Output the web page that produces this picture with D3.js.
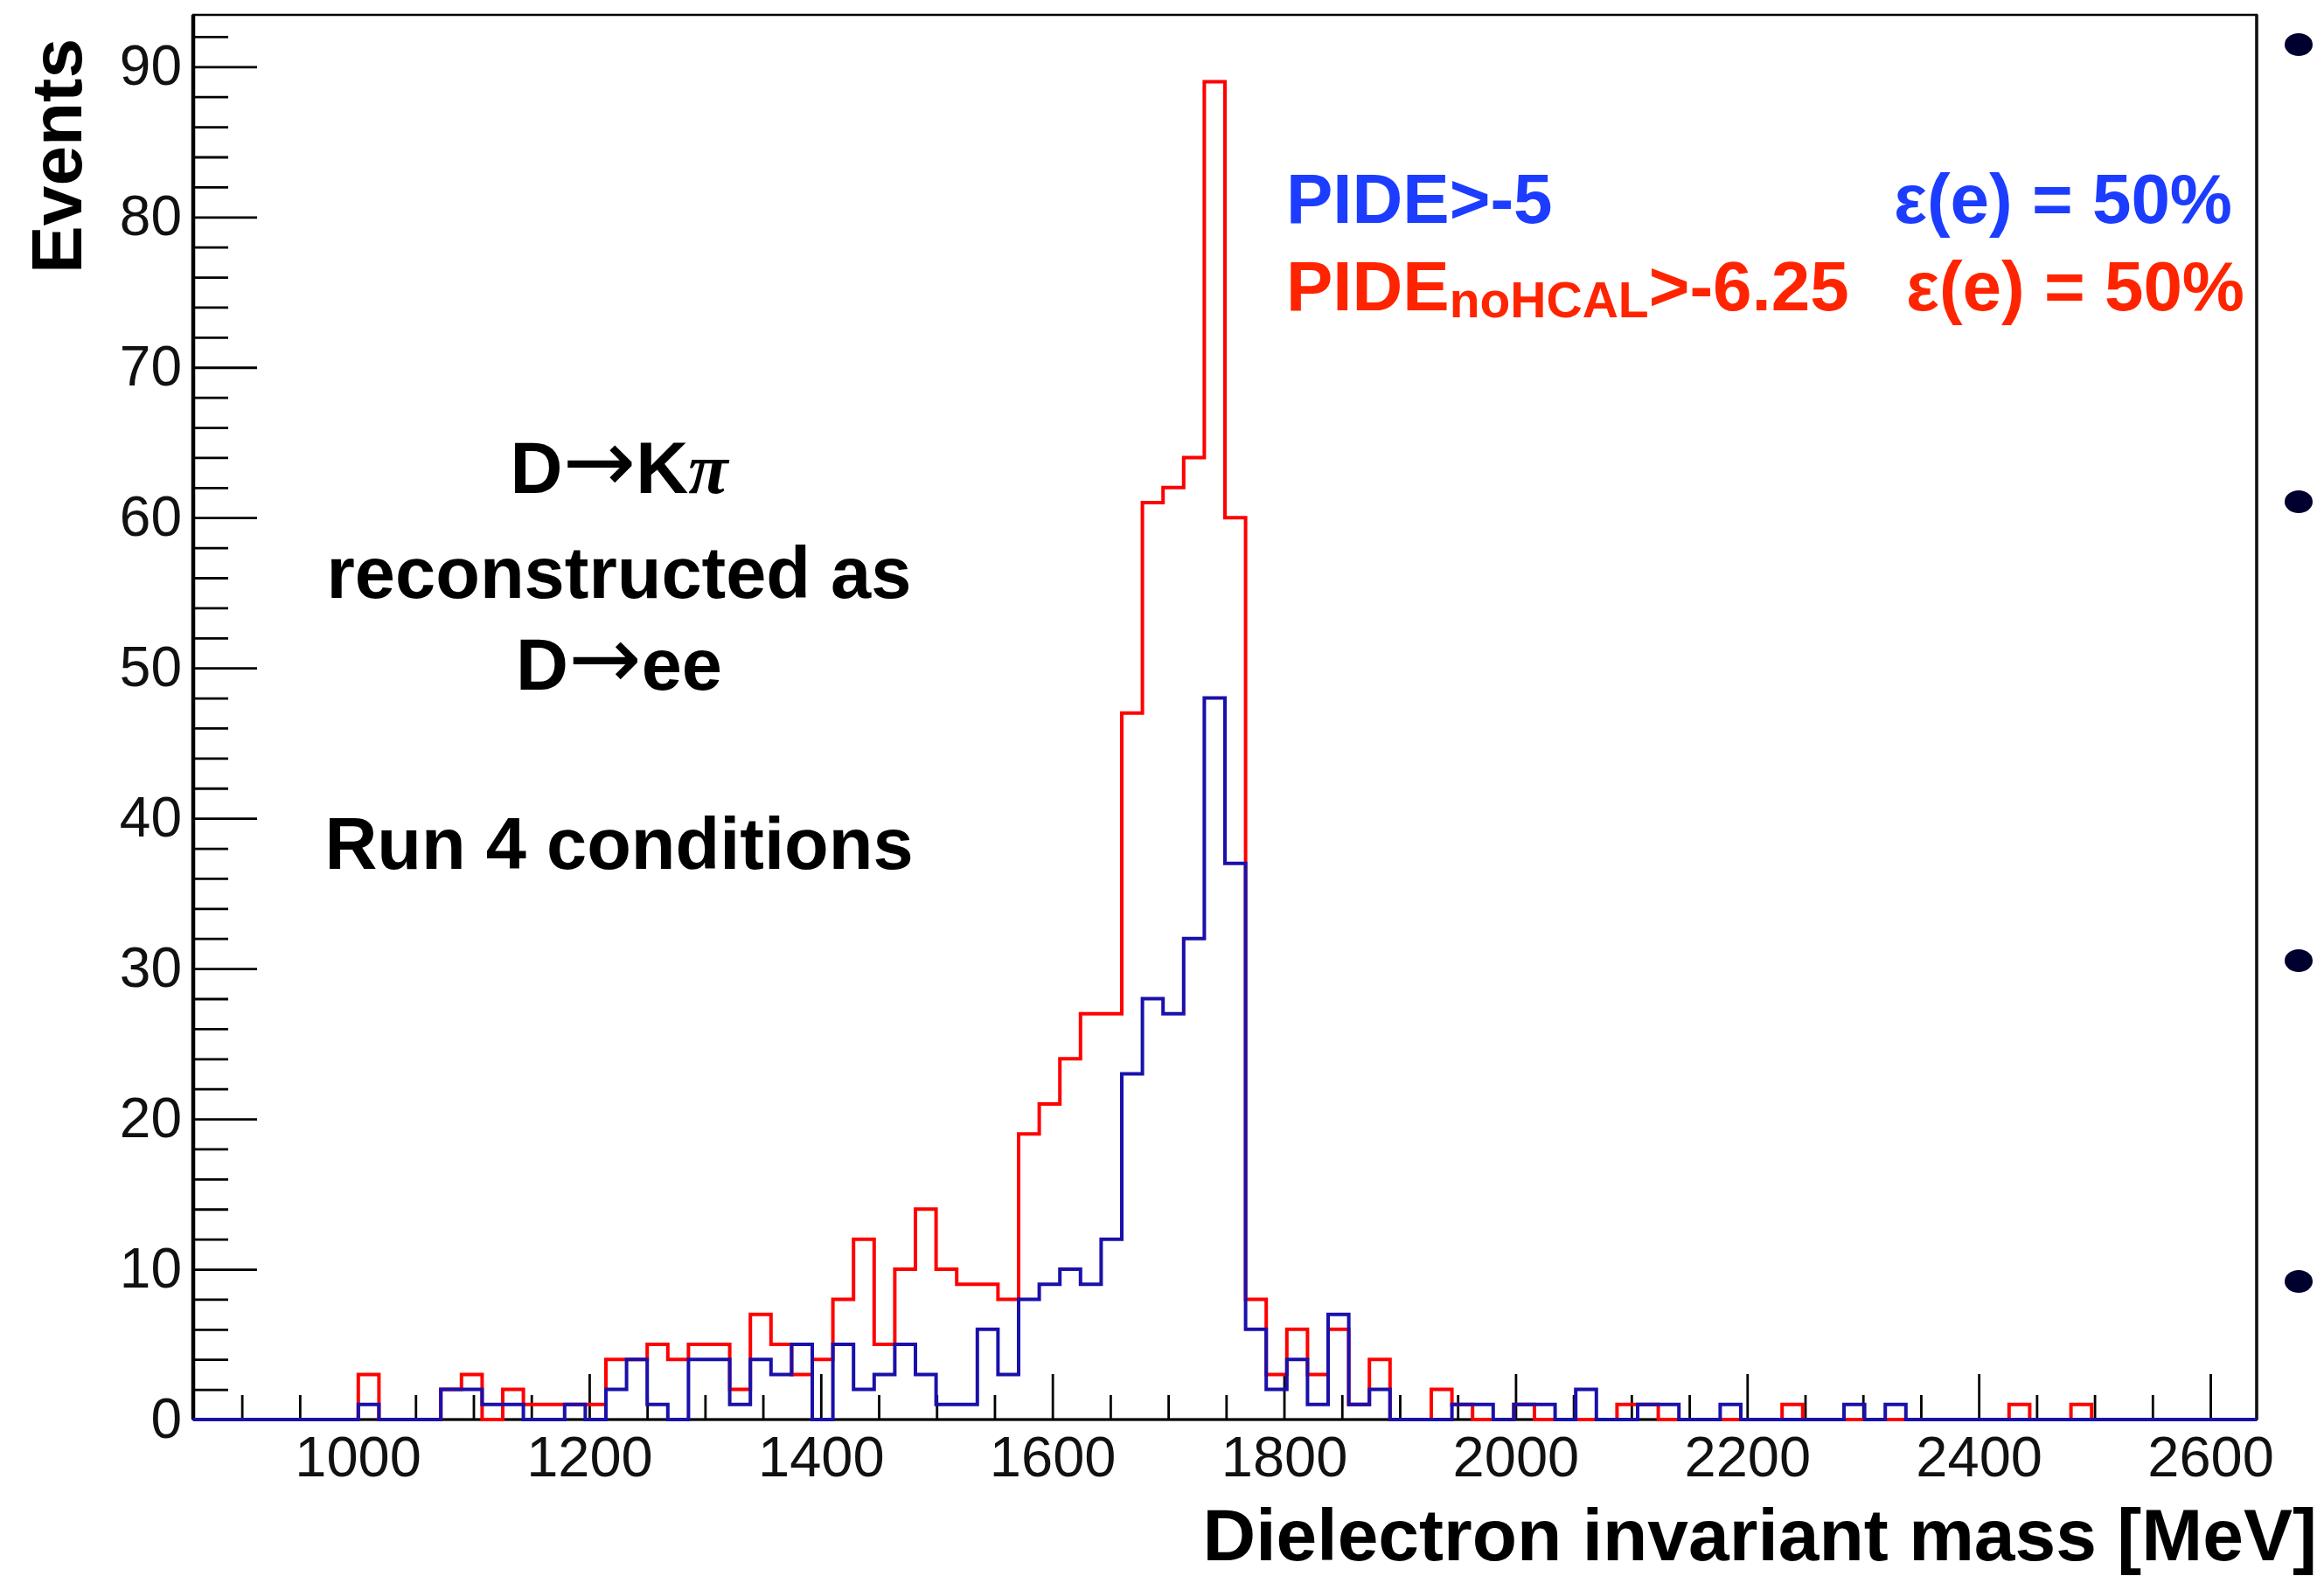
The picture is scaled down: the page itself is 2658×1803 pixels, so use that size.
<!DOCTYPE html>
<html><head><meta charset="utf-8">
<script src="https://cdn.jsdelivr.net/npm/d3@7"></script>
<style>
html,body{margin:0;padding:0;background:#fff;overflow:hidden}
svg{display:block}
text{font-family:"Liberation Sans",Arial,Helvetica,sans-serif}
</style>
</head><body>
<svg id="c" width="2658" height="1803"></svg>
<script>
// ---------- data ----------
const histRange = [858, 2640];      // MeV, histogram range
const nBins = 100;
const yMax = 93.45;

const redCounts = [
  0,0,0,0,0,0,0,0,3,0,
  0,0,2,3,0,2,1,1,1,1,
  4,4,5,4,5,5,2,7,5,3,
  4,8,12,5,10,14,10,9,9,8,
  19,21,24,27,27,47,61,62,64,89,
  60,8,3,6,3,6,1,4,0,0,
  2,1,0,0,1,0,0,0,0,1,
  1,0,0,0,0,0,0,1,0,0,
  0,0,0,0,0,0,0,0,1,0,
  0,1,0,0,0,0,0,0,0,0
];
const blueCounts = [
  0,0,0,0,0,0,0,0,1,0,
  0,0,2,2,1,1,0,0,1,0,
  2,4,1,0,4,4,1,4,3,5,
  0,5,2,3,5,3,1,1,6,3,
  8,9,10,9,12,23,28,27,32,48,
  37,6,2,4,1,7,1,2,0,0,
  0,1,1,0,1,1,0,2,0,0,
  1,1,0,0,1,0,0,0,0,0,
  1,0,1,0,0,0,0,0,0,0,
  0,0,0,0,0,0,0,0,0,0
];
const xTickLabels = [1000,1200,1400,1600,1800,2000,2200,2400,2600];
const xMinorTicks = [900,950,1050,1100,1150,1250,1300,1350,1450,1500,1550,1650,1700,1750,1850,1900,1950,2050,2100,2150,2250,2300,2350,2450,2500,2550];
const yTickLabels = [0,10,20,30,40,50,60,70,80,90];
const yMinorTicks = [2,4,6,8,12,14,16,18,22,24,26,28,32,34,36,38,42,44,46,48,52,54,56,58,62,64,66,68,72,74,76,78,82,84,86,88,92];

// ---------- layout ----------
const L = 221, R = 2581, T = 17, B = 1624;
const redLine = "#ff0000", blueLine = "#1a10aa";
const redText = "#ff2400", blueText = "#1c3cff";

const svg = d3.select("#c");
const x = d3.scaleLinear().domain(histRange).range([L, R]);
const y = d3.scaleLinear().domain([0, yMax]).range([B, T]);

// frame
svg.append("rect").attr("x", L).attr("y", T).attr("width", R - L).attr("height", B - T)
  .attr("fill", "none").attr("stroke", "#000").attr("stroke-width", 2.5);
svg.append("line").attr("x1", L).attr("x2", L).attr("y1", T).attr("y2", B)
  .attr("stroke", "#000").attr("stroke-width", 4.5);
svg.append("line").attr("x1", R).attr("x2", R).attr("y1", T).attr("y2", B)
  .attr("stroke", "#111").attr("stroke-width", 3.5);
svg.append("line").attr("x1", L).attr("x2", R).attr("y1", B).attr("y2", B)
  .attr("stroke", "#000").attr("stroke-width", 3);

function styleTicks(g){
  g.select(".domain").remove();
  g.selectAll("line").attr("stroke", "#000").attr("stroke-width", 2.8);
}
// y ticks (inside)
svg.append("g").attr("transform", `translate(${L},0)`)
  .call(d3.axisRight(y).tickValues(yTickLabels).tickSize(73).tickFormat(""))
  .call(styleTicks);
svg.append("g").attr("transform", `translate(${L},0)`)
  .call(d3.axisRight(y).tickValues(yMinorTicks).tickSize(40).tickFormat(""))
  .call(styleTicks);
// y labels
const yl = svg.append("g").attr("transform", `translate(${L},0)`)
  .call(d3.axisLeft(y).tickValues(yTickLabels).tickSize(0).tickPadding(13));
yl.select(".domain").remove();
yl.selectAll("text").attr("font-family", "Liberation Sans, Arial, sans-serif")
  .attr("font-size", 64).attr("fill", "#111");

// x ticks (inside)
svg.append("g").attr("transform", `translate(0,${B})`)
  .call(d3.axisTop(x).tickValues(xTickLabels).tickSize(52).tickFormat(""))
  .call(styleTicks);
svg.append("g").attr("transform", `translate(0,${B})`)
  .call(d3.axisTop(x).tickValues(xMinorTicks).tickSize(28).tickFormat(""))
  .call(styleTicks);
const xl = svg.append("g").attr("transform", `translate(0,${B})`)
  .call(d3.axisBottom(x).tickValues(xTickLabels).tickSize(0).tickPadding(19).tickFormat(d3.format("d")));
xl.select(".domain").remove();
xl.selectAll("text").attr("font-family", "Liberation Sans, Arial, sans-serif")
  .attr("font-size", 65).attr("fill", "#111");

// histograms
const edges = d3.range(nBins + 1).map(i => histRange[0] + i * (histRange[1] - histRange[0]) / nBins);
function stepPts(counts){
  const p = counts.map((c, i) => [edges[i], c]);
  p.push([edges[nBins], counts[nBins - 1]]);
  return p;
}
const line = d3.line().x(d => x(d[0])).y(d => y(d[1])).curve(d3.curveStepAfter);
svg.append("path").attr("d", line(stepPts(redCounts)))
  .attr("fill", "none").attr("stroke", redLine).attr("stroke-width", 4).attr("stroke-linejoin", "miter");
svg.append("path").attr("d", line(stepPts(blueCounts)))
  .attr("fill", "none").attr("stroke", blueLine).attr("stroke-width", 4).attr("stroke-linejoin", "miter");

// axis titles
svg.append("text").attr("x", 2650).attr("y", 1785).attr("text-anchor", "end")
  .attr("font-size", 84).attr("font-weight", "bold").attr("fill", "#000")
  .text("Dielectron invariant mass [MeV]");
svg.append("text").attr("transform", "translate(93,44) rotate(-90)").attr("text-anchor", "end")
  .attr("font-size", 82).attr("font-weight", "bold").attr("fill", "#000")
  .text("Events");

// annotations
const cx = 708;
const arrowFont = "DejaVu Sans, sans-serif";
const t1 = svg.append("text").attr("x", cx).attr("y", 564).attr("text-anchor", "middle")
  .attr("font-size", 83).attr("font-weight", "bold").attr("fill", "#000");
t1.append("tspan").text("D");
t1.append("tspan").attr("font-family", arrowFont).attr("font-weight", "normal").attr("font-size", 100).attr("dy", -2).text("\u2192");
t1.append("tspan").attr("dy", 2).text("K");
t1.append("tspan").attr("font-family", "Liberation Serif, DejaVu Serif, serif").attr("font-style", "italic").text("\u03c0");
svg.append("text").attr("x", cx).attr("y", 684).attr("text-anchor", "middle")
  .attr("font-size", 83).attr("font-weight", "bold").text("reconstructed as");
const t3 = svg.append("text").attr("x", cx).attr("y", 789).attr("text-anchor", "middle")
  .attr("font-size", 83).attr("font-weight", "bold");
t3.append("tspan").text("D");
t3.append("tspan").attr("font-family", arrowFont).attr("font-weight", "normal").attr("font-size", 100).attr("dy", -2).text("\u2192");
t3.append("tspan").attr("dy", 2).text("ee");
svg.append("text").attr("x", cx).attr("y", 994).attr("text-anchor", "middle")
  .attr("font-size", 83).attr("font-weight", "bold").text("Run 4 conditions");

// legend texts
svg.append("text").attr("x", 1471).attr("y", 255).attr("font-size", 80).attr("font-weight", "bold")
  .attr("fill", blueText).text("PIDE>-5");
svg.append("text").attr("x", 2553).attr("y", 255).attr("text-anchor", "end").attr("font-size", 80).attr("font-weight", "bold")
  .attr("fill", blueText).text("\u03b5(e) = 50%");
const r1 = svg.append("text").attr("x", 1471).attr("y", 355).attr("font-size", 80).attr("font-weight", "bold")
  .attr("fill", redText);
r1.append("tspan").text("PIDE");
r1.append("tspan").attr("font-size", 57).attr("dy", 8).text("noHCAL");
r1.append("tspan").attr("dy", -8).text(">-6.25");
svg.append("text").attr("x", 2567).attr("y", 355).attr("text-anchor", "end").attr("font-size", 80).attr("font-weight", "bold")
  .attr("fill", redText).text("\u03b5(e) = 50%");

// slide bullets on the right
[51, 574, 1099, 1466].forEach(cy => {
  svg.append("ellipse").attr("cx", 2629).attr("cy", cy).attr("rx", 16).attr("ry", 13).attr("fill", "#00002e");
});
</script>
</body></html>
